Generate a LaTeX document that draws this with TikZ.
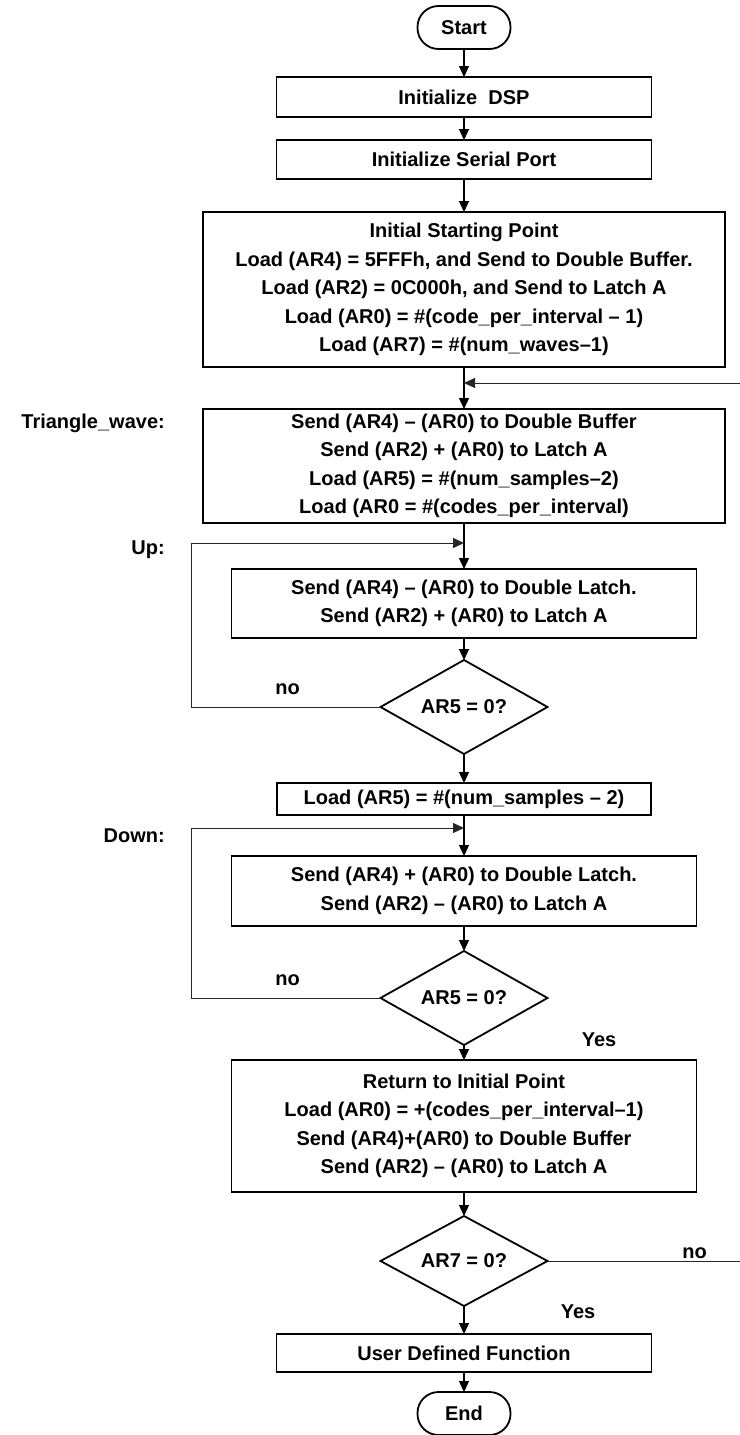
\documentclass[tikz,border=0pt]{standalone}
\usepackage{fontspec}
\setmainfont{Liberation Sans}
\usetikzlibrary{shapes.geometric, arrows.meta, positioning}

\begin{document}
\begin{tikzpicture}[x=1pt, y=1pt, node distance=28pt,
        font=\fontsize{20}{28.5}\selectfont\bfseries,
        procbox/.style={draw, rectangle, line width=1.8pt, align=center, inner sep=0pt, outer sep=0pt},
        term/.style={draw, rectangle, rounded corners=21pt, line width=1.8pt, minimum width=93pt, minimum height=43pt, inner sep=0pt, outer sep=0pt},
        decision/.style={draw, diamond, aspect=1.77, line width=1.8pt, minimum width=167pt, minimum height=94pt, inner sep=0pt, outer sep=0pt},
        flow/.style={-{Triangle[length=11pt,width=10pt]}, line width=1.3pt},
        backline/.style={-{Triangle[length=11pt,width=10pt]}, line width=1pt, draw=black!85},
        lbl/.style={inner sep=0pt}]
        \useasboundingbox (0,0) rectangle (739,-1435);

        \node (start) [term] at (464,-27.5) {Start};
        \node (dsp) [procbox, minimum width=375pt, minimum height=40pt, below=28pt of start] {Initialize~ DSP};
        \node (serial) [procbox, minimum width=375pt, minimum height=39pt, below=23pt of dsp] {Initialize Serial Port};
        \node (init) [procbox, minimum width=522pt, minimum height=155pt, below=33pt of serial] {Initial Starting Point\\
            Load (AR4) = 5FFFh, and Send to Double Buffer.\\
            Load (AR2) = 0C000h, and Send to Latch A\\
            Load (AR0) = \#(code\_per\_interval – 1)\\
            Load (AR7) = \#(num\_waves–1)};
        \node (tri) [procbox, minimum width=522pt, minimum height=114pt, below=42pt of init] {Send (AR4) – (AR0) to Double Buffer\\
            Send (AR2) + (AR0) to Latch A\\
            Load (AR5) = \#(num\_samples–2)\\
            Load (AR0 = \#(codes\_per\_interval)};
        \node (up) [procbox, minimum width=465pt, minimum height=69pt, below=46pt of tri] {Send (AR4) – (AR0) to Double Latch.\\
            Send (AR2) + (AR0) to Latch A};
        \node (dec1) [decision, below=22pt of up] {AR5 = 0?};
        \node (load) [procbox, minimum width=374pt, minimum height=32pt, below=29pt of dec1] {Load (AR5) = \#(num\_samples – 2)};
        \node (down) [procbox, minimum width=465pt, minimum height=70pt, below=41pt of load] {Send (AR4) + (AR0) to Double Latch.\\
            Send (AR2) – (AR0) to Latch A};
        \node (dec2) [decision, below=25pt of down] {AR5 = 0?};
        \node (ret) [procbox, minimum width=465pt, minimum height=132pt, below=15pt of dec2] {Return to Initial Point\\
            Load (AR0) = +(codes\_per\_interval–1)\\
            Send (AR4)+(AR0) to Double Buffer\\
            Send (AR2) – (AR0) to Latch A};
        \node (dec3) [decision, minimum height=90pt, below=24pt of ret] {AR7 = 0?};
        \node (user) [procbox, minimum width=375pt, minimum height=38pt, below=28pt of dec3] {User Defined Function};
        \node (end) [term, below=20pt of user] {End};

        % side labels
        \node (trilbl) [lbl, anchor=east] at (165,-423) {Triangle\_wave:};
        \node (uplbl) [lbl, anchor=east] at (165,-550) {Up:};
        \node (downlbl) [lbl, anchor=east] at (165,-836) {Down:};
        \node (no1) [lbl] at ([xshift=-93pt,yshift=18pt]dec1.west) {no};
        \node (no2) [lbl] at ([xshift=-93pt,yshift=18pt]dec2.west) {no};
        \node (yes2) [lbl] at ([xshift=135pt,yshift=5pt]dec2.south) {Yes};
        \node (no3) [lbl] at ([xshift=147pt,yshift=8pt]dec3.east) {no};
        \node (yes3) [lbl] at ([xshift=114pt,yshift=-6pt]dec3.south) {Yes};

        \coordinate (fbjoin) at ([yshift=-16pt]init.south);
        \coordinate (upjoin) at ([yshift=-20pt]tri.south);
        \coordinate (downjoin) at ([yshift=-13pt]load.south);

        \draw[flow] (start) -- (dsp);
        \draw[flow] (dsp) -- (serial);
        \draw[flow] (serial) -- (init);
        \draw[flow] (init) -- (tri);
        \draw[flow] (tri) -- (up);
        \draw[flow] (up) -- (dec1);
        \draw[flow] (dec1) -- (load);
        \draw[flow] (load) -- (down);
        \draw[flow] (down) -- (dec2);
        \draw[flow] (dec2) -- (ret);
        \draw[flow] (ret) -- (dec3);
        \draw[flow] (dec3) -- (user);
        \draw[flow] (user) -- (end);

        % loops back
        \draw[backline] (dec1.west) -- ++(-189,0) |- (upjoin);
        \draw[backline] (dec2.west) -- ++(-189,0) |- (downjoin);
        \draw[backline] (dec3.east) -- ++(200,0) |- (fbjoin);
    \end{tikzpicture}
\end{document}
